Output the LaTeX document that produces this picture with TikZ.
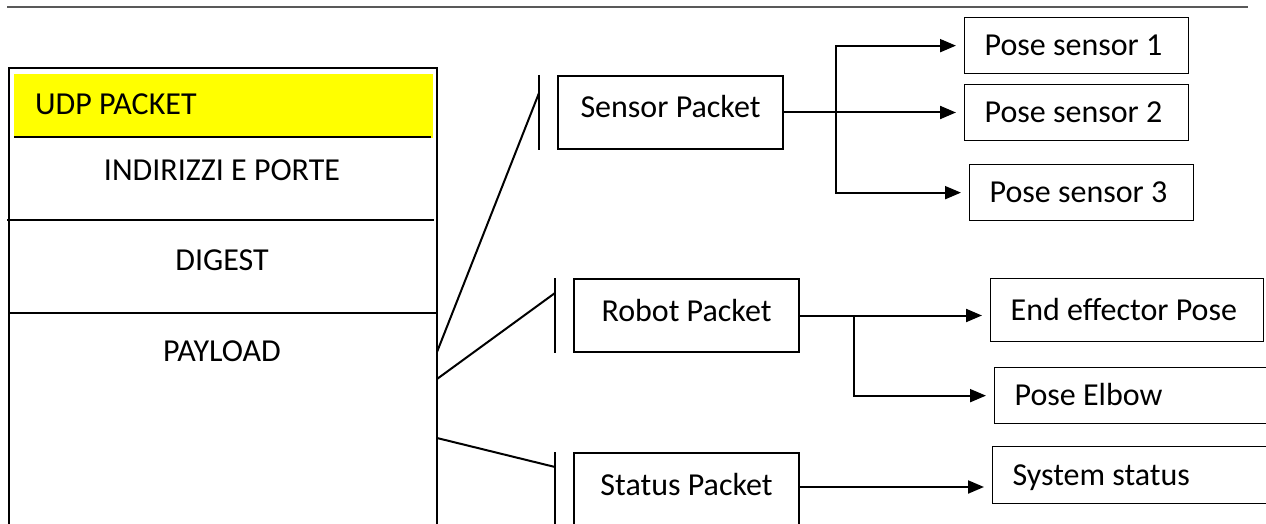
\documentclass[tikz,border=0pt]{standalone}
\usepackage{fontspec}
\setmainfont{Carlito}
\usetikzlibrary{arrows.meta}
\definecolor{udpyellow}{rgb}{1, 1, 0}
\definecolor{rulegray}{rgb}{0.35, 0.35, 0.35}

\tikzset{
  packet/.style={draw, line width=2pt, minimum width=225pt, inner xsep=0pt,
    inner ysep=20pt, text height=22pt, text depth=11pt, anchor=north west},
  posebox/.style={draw, line width=1.3pt, inner xsep=20pt, align=flush left,
    minimum height=56pt, text height=26pt, text depth=6pt, anchor=north west},
  field/.style={inner sep=0pt},
  conn/.style={line width=2pt},
  arrow/.style={line width=2pt, shorten >=8pt, -{Triangle[length=16pt,width=13pt]}},
}

\begin{document}
\begin{tikzpicture}[x=1pt, y=-1pt, font=\fontsize{32}{38}\selectfont]
  % Parameters
  \def\gap{18}    % Gap between bar and packet box
  \useasboundingbox (0,0) rectangle (1266,524);
  \clip (0,0) rectangle (1266,524);
  % Top rule
  \draw[rulegray, line width=1.5pt] (7,7) -- (1248,7);
  % UDP packet
  \fill[udpyellow] (14,74) rectangle (433,138);
  \draw[line width=2pt] (8.5,540) -- (8.5,68.5) -- (436.5,68.5) -- (436.5,540);
  \draw[line width=2pt] (14,137) -- (431,137);
  \draw[line width=2pt] (7,220) -- (434,220);
  \draw[line width=2pt] (9,313) -- (436,313);
  \node[field, anchor=west] (udp) at (35,104) {UDP PACKET};
  \node[field] (addr) at (222,170) {INDIRIZZI E PORTE};
  \node[field] (digest) at (222,260) {DIGEST};
  \node[field] (payload) at (222,351) {PAYLOAD};
  \coordinate (out1) at (437,352);
  \coordinate (out2) at (437,379);
  \coordinate (out3) at (437,438);
  % Packets
  \node[packet] (sensor) at (557,75) {Sensor Packet};
  \node[packet] (robot) at (573,278) {Robot Packet};
  \node[packet, text depth=80pt] (status) at (573,452) {Status Packet};
  % Bars
  \draw[conn] ([xshift=-\gap pt]sensor.north west) -- ([xshift=-\gap pt]sensor.south west);
  \draw[conn] ([xshift=-\gap pt]robot.north west) -- ([xshift=-\gap pt]robot.south west);
  \draw[conn] ([xshift=-\gap pt]status.north west) -- ([xshift=-\gap pt]status.south west);
  \coordinate (in1) at ([xshift=-\gap pt, yshift=-18pt]sensor.north west);
  \coordinate (in2) at ([xshift=-\gap pt, yshift=-15pt]robot.north west);
  \coordinate (in3) at ([xshift=-\gap pt, yshift=-15pt]status.north west);
  \draw[conn] (out1) -- (in1);
  \draw[conn] (out2) -- (in2);
  \draw[conn] (out3) -- (in3);
  % Sensor contents
  \node[posebox, text width=184pt] (pose1) at (964,17) {Pose sensor 1};
  \node[posebox, text width=184pt] (pose2) at (964,84) {Pose sensor 2};
  \node[posebox, text width=184pt] (pose3) at (969,164) {Pose sensor 3};
  \coordinate (sj) at ([xshift=52pt]sensor.east);
  \draw[arrow] (sensor.east) -- (sensor.east -| pose2.west);
  \draw[arrow] (sj) |- (pose1.west);
  \draw[arrow] (sj) |- (pose3.west);
  % Robot contents
  \node[posebox, text width=233pt, minimum height=63pt] (endeff) at (990,278) {End effector Pose};
  \node[posebox, text width=232pt] (elbow) at (994,367) {Pose Elbow};
  \coordinate (rj) at ([xshift=54pt]robot.east);
  \draw[arrow] (robot.east) -- (robot.east -| endeff.west);
  \draw[arrow] (rj) |- (elbow.west);
  % Status contents
  \node[posebox, text width=236pt, minimum height=57pt] (sysstat) at (992,446) {System status};
  \coordinate (so) at ([yshift=-35pt]status.north east);
  \draw[arrow] (so) -- (so -| sysstat.west);
\end{tikzpicture}
\end{document}
